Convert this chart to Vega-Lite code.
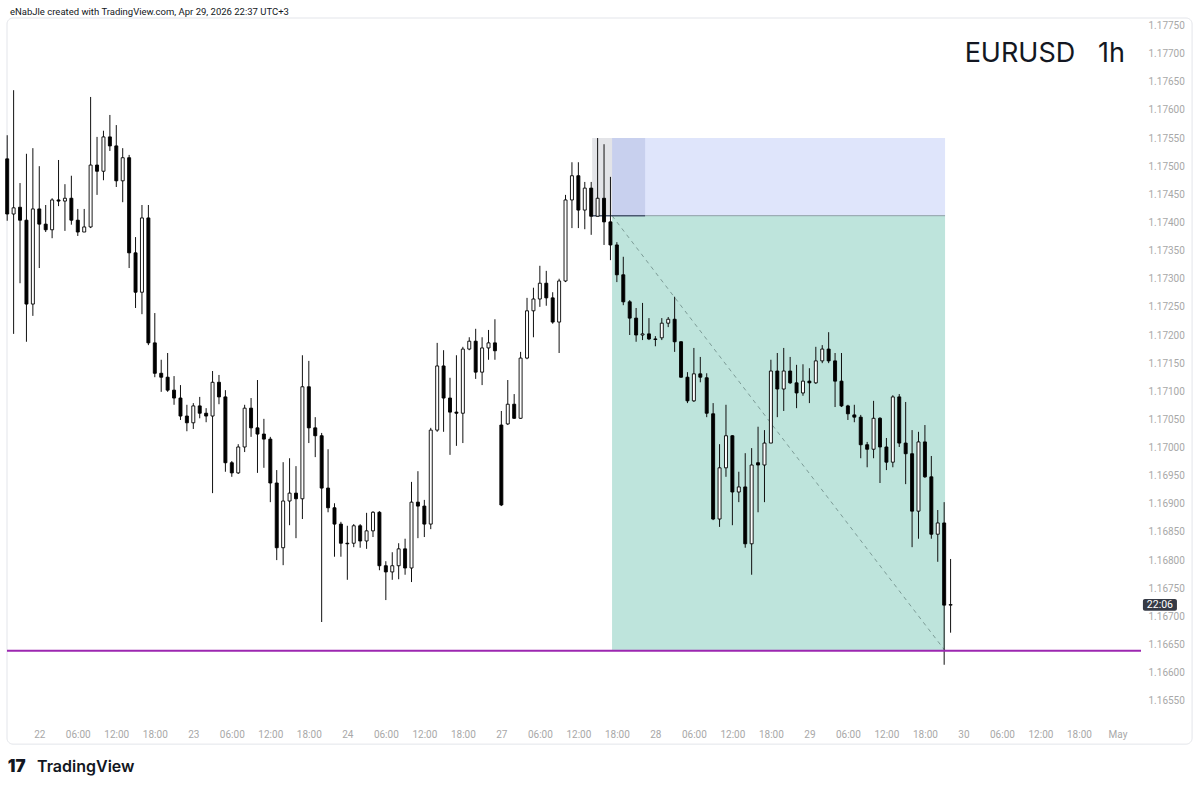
{
  "$schema": "https://vega.github.io/schema/vega-lite/v6.json",
  "autosize": {"type": "none"},
  "width": 1134,
  "height": 703,
  "padding": {"left": 7, "top": 18, "right": 59, "bottom": 68},
  "background": "#ffffff",
  "config": {
    "view": {"stroke": null},
    "axisX": {"grid": false, "domain": false, "ticks": false, "tickSize": 0, "labelPadding": 13, "labelBaseline": "middle", "labelFlush": false, "labelOverlap": false, "labelFont": "Roboto", "labelFontSize": 10, "labelColor": "#a8a8a8"},
    "axisY": {"grid": false, "domain": false, "ticks": false, "tickSize": 0, "labelPadding": 7, "labelAlign": "left", "labelFlush": false, "labelOverlap": false, "labelFont": "Roboto", "labelFontSize": 10, "labelColor": "#a8a8a8"}
  },
  "datasets": {
    "candles": [
      {"i":-5,"open":1.17513,"high":1.17555,"low":1.17403,"close":1.17415},
      {"i":-4,"open":1.17415,"high":1.17635,"low":1.17202,"close":1.17426},
      {"i":-3,"open":1.17427,"high":1.17470,"low":1.17292,"close":1.17404},
      {"i":-2,"open":1.17404,"high":1.17522,"low":1.17188,"close":1.17255},
      {"i":-1,"open":1.17255,"high":1.17532,"low":1.17234,"close":1.17424},
      {"i":0,"open":1.17424,"high":1.17500,"low":1.17319,"close":1.17397},
      {"i":1,"open":1.17397,"high":1.17431,"low":1.17383,"close":1.17387},
      {"i":2,"open":1.17387,"high":1.17443,"low":1.17372,"close":1.17440},
      {"i":3,"open":1.17440,"high":1.17511,"low":1.17429,"close":1.17438},
      {"i":4,"open":1.17438,"high":1.17468,"low":1.17385,"close":1.17443},
      {"i":5,"open":1.17443,"high":1.17483,"low":1.17396,"close":1.17404},
      {"i":6,"open":1.17404,"high":1.17424,"low":1.17376,"close":1.17383},
      {"i":7,"open":1.17383,"high":1.17424,"low":1.17383,"close":1.17392},
      {"i":8,"open":1.17392,"high":1.17623,"low":1.17390,"close":1.17502},
      {"i":9,"open":1.17502,"high":1.17552,"low":1.17449,"close":1.17491},
      {"i":10,"open":1.17491,"high":1.17563,"low":1.17475,"close":1.17552},
      {"i":11,"open":1.17552,"high":1.17591,"low":1.17527,"close":1.17536},
      {"i":12,"open":1.17536,"high":1.17573,"low":1.17463,"close":1.17474},
      {"i":13,"open":1.17474,"high":1.17532,"low":1.17436,"close":1.17515},
      {"i":14,"open":1.17515,"high":1.17520,"low":1.17319,"close":1.17346},
      {"i":15,"open":1.17346,"high":1.17374,"low":1.17248,"close":1.17276},
      {"i":16,"open":1.17276,"high":1.17431,"low":1.17237,"close":1.17408},
      {"i":17,"open":1.17408,"high":1.17431,"low":1.17182,"close":1.17186},
      {"i":18,"open":1.17186,"high":1.17239,"low":1.17125,"close":1.17132},
      {"i":19,"open":1.17132,"high":1.17156,"low":1.17099,"close":1.17125},
      {"i":20,"open":1.17125,"high":1.17168,"low":1.17099,"close":1.17102},
      {"i":21,"open":1.17102,"high":1.17127,"low":1.17076,"close":1.17088},
      {"i":22,"open":1.17088,"high":1.17111,"low":1.17049,"close":1.17056},
      {"i":23,"open":1.17056,"high":1.17076,"low":1.17029,"close":1.17044},
      {"i":24,"open":1.17044,"high":1.17079,"low":1.17033,"close":1.17074},
      {"i":25,"open":1.17074,"high":1.17090,"low":1.17052,"close":1.17061},
      {"i":26,"open":1.17061,"high":1.17070,"low":1.17045,"close":1.17056},
      {"i":27,"open":1.17056,"high":1.17136,"low":1.16919,"close":1.17116},
      {"i":28,"open":1.17116,"high":1.17129,"low":1.17077,"close":1.17090},
      {"i":29,"open":1.17090,"high":1.17102,"low":1.16957,"close":1.16973},
      {"i":30,"open":1.16973,"high":1.16976,"low":1.16948,"close":1.16955},
      {"i":31,"open":1.16955,"high":1.17006,"low":1.16953,"close":1.17001},
      {"i":32,"open":1.17001,"high":1.17076,"low":1.16992,"close":1.17070},
      {"i":33,"open":1.17070,"high":1.17088,"low":1.17019,"close":1.17035},
      {"i":34,"open":1.17035,"high":1.17120,"low":1.16955,"close":1.17024},
      {"i":35,"open":1.17024,"high":1.17051,"low":1.16964,"close":1.17015},
      {"i":36,"open":1.17015,"high":1.17019,"low":1.16903,"close":1.16937},
      {"i":37,"open":1.16937,"high":1.16960,"low":1.16800,"close":1.16822},
      {"i":38,"open":1.16822,"high":1.16974,"low":1.16791,"close":1.16905},
      {"i":39,"open":1.16905,"high":1.16981,"low":1.16862,"close":1.16919},
      {"i":40,"open":1.16919,"high":1.16967,"low":1.16839,"close":1.16909},
      {"i":41,"open":1.16909,"high":1.17164,"low":1.16873,"close":1.17108},
      {"i":42,"open":1.17108,"high":1.17154,"low":1.17008,"close":1.17035},
      {"i":43,"open":1.17035,"high":1.17054,"low":1.16983,"close":1.17021},
      {"i":44,"open":1.17021,"high":1.17026,"low":1.16690,"close":1.16928},
      {"i":45,"open":1.16928,"high":1.16997,"low":1.16885,"close":1.16893},
      {"i":46,"open":1.16893,"high":1.16901,"low":1.16806,"close":1.16864},
      {"i":47,"open":1.16864,"high":1.16868,"low":1.16806,"close":1.16830},
      {"i":48,"open":1.16830,"high":1.16861,"low":1.16765,"close":1.16829},
      {"i":49,"open":1.16830,"high":1.16864,"low":1.16823,"close":1.16861},
      {"i":50,"open":1.16861,"high":1.16864,"low":1.16822,"close":1.16834},
      {"i":51,"open":1.16834,"high":1.16884,"low":1.16820,"close":1.16852},
      {"i":52,"open":1.16852,"high":1.16887,"low":1.16841,"close":1.16885},
      {"i":53,"open":1.16885,"high":1.16887,"low":1.16782,"close":1.16790},
      {"i":54,"open":1.16790,"high":1.16798,"low":1.16729,"close":1.16779},
      {"i":55,"open":1.16779,"high":1.16814,"low":1.16765,"close":1.16790},
      {"i":56,"open":1.16790,"high":1.16830,"low":1.16766,"close":1.16820},
      {"i":57,"open":1.16820,"high":1.16838,"low":1.16774,"close":1.16786},
      {"i":58,"open":1.16786,"high":1.16939,"low":1.16761,"close":1.16903},
      {"i":59,"open":1.16903,"high":1.16958,"low":1.16839,"close":1.16896},
      {"i":60,"open":1.16896,"high":1.16907,"low":1.16841,"close":1.16864},
      {"i":61,"open":1.16864,"high":1.17035,"low":1.16855,"close":1.17031},
      {"i":62,"open":1.17031,"high":1.17186,"low":1.17028,"close":1.17145},
      {"i":63,"open":1.17145,"high":1.17173,"low":1.17028,"close":1.17088},
      {"i":64,"open":1.17088,"high":1.17124,"low":1.16987,"close":1.17063},
      {"i":65,"open":1.17063,"high":1.17164,"low":1.17003,"close":1.17061},
      {"i":66,"open":1.17061,"high":1.17179,"low":1.17008,"close":1.17175},
      {"i":67,"open":1.17175,"high":1.17196,"low":1.17173,"close":1.17189},
      {"i":68,"open":1.17189,"high":1.17211,"low":1.17122,"close":1.17134},
      {"i":69,"open":1.17134,"high":1.17196,"low":1.17111,"close":1.17177},
      {"i":70,"open":1.17177,"high":1.17209,"low":1.17156,"close":1.17186},
      {"i":71,"open":1.17186,"high":1.17228,"low":1.17156,"close":1.17172},
      {"i":72,"open":1.17040,"high":1.17065,"low":1.16896,"close":1.16898},
      {"i":73,"open":1.17042,"high":1.17120,"low":1.17040,"close":1.17077},
      {"i":74,"open":1.17077,"high":1.17095,"low":1.17051,"close":1.17052},
      {"i":75,"open":1.17052,"high":1.17170,"low":1.17051,"close":1.17159},
      {"i":76,"open":1.17159,"high":1.17266,"low":1.17157,"close":1.17243},
      {"i":77,"open":1.17243,"high":1.17284,"low":1.17196,"close":1.17264},
      {"i":78,"open":1.17264,"high":1.17323,"low":1.17250,"close":1.17292},
      {"i":79,"open":1.17292,"high":1.17314,"low":1.17252,"close":1.17266},
      {"i":80,"open":1.17266,"high":1.17276,"low":1.17220,"close":1.17223},
      {"i":81,"open":1.17223,"high":1.17300,"low":1.17168,"close":1.17296},
      {"i":82,"open":1.17296,"high":1.17449,"low":1.17294,"close":1.17440},
      {"i":83,"open":1.17440,"high":1.17507,"low":1.17390,"close":1.17483},
      {"i":84,"open":1.17483,"high":1.17507,"low":1.17390,"close":1.17422},
      {"i":85,"open":1.17422,"high":1.17472,"low":1.17388,"close":1.17461},
      {"i":86,"open":1.17461,"high":1.17472,"low":1.17378,"close":1.17411},
      {"i":87,"open":1.17411,"high":1.17550,"low":1.17411,"close":1.17443},
      {"i":88,"open":1.17443,"high":1.17539,"low":1.17360,"close":1.17401},
      {"i":89,"open":1.17401,"high":1.17481,"low":1.17333,"close":1.17360},
      {"i":90,"open":1.17360,"high":1.17365,"low":1.17294,"close":1.17307},
      {"i":91,"open":1.17307,"high":1.17339,"low":1.17253,"close":1.17259},
      {"i":92,"open":1.17259,"high":1.17262,"low":1.17200,"close":1.17230},
      {"i":93,"open":1.17230,"high":1.17248,"low":1.17188,"close":1.17200},
      {"i":94,"open":1.17200,"high":1.17257,"low":1.17191,"close":1.17202},
      {"i":95,"open":1.17202,"high":1.17230,"low":1.17191,"close":1.17193},
      {"i":96,"open":1.17193,"high":1.17198,"low":1.17180,"close":1.17192},
      {"i":97,"open":1.17195,"high":1.17230,"low":1.17191,"close":1.17221},
      {"i":98,"open":1.17221,"high":1.17232,"low":1.17214,"close":1.17228},
      {"i":99,"open":1.17228,"high":1.17268,"low":1.17170,"close":1.17188},
      {"i":100,"open":1.17188,"high":1.17189,"low":1.17124,"close":1.17125},
      {"i":101,"open":1.17125,"high":1.17134,"low":1.17079,"close":1.17083},
      {"i":102,"open":1.17083,"high":1.17177,"low":1.17081,"close":1.17131},
      {"i":103,"open":1.17131,"high":1.17161,"low":1.17116,"close":1.17125},
      {"i":104,"open":1.17124,"high":1.17132,"low":1.17054,"close":1.17061},
      {"i":105,"open":1.17060,"high":1.17079,"low":1.16871,"close":1.16873},
      {"i":106,"open":1.16873,"high":1.17006,"low":1.16859,"close":1.16964},
      {"i":107,"open":1.16964,"high":1.17076,"low":1.16948,"close":1.17021},
      {"i":108,"open":1.17021,"high":1.17022,"low":1.16862,"close":1.16921},
      {"i":109,"open":1.16921,"high":1.16957,"low":1.16903,"close":1.16930},
      {"i":110,"open":1.16930,"high":1.16990,"low":1.16822,"close":1.16829},
      {"i":111,"open":1.16829,"high":1.16999,"low":1.16774,"close":1.16969},
      {"i":112,"open":1.16973,"high":1.17037,"low":1.16885,"close":1.16969},
      {"i":113,"open":1.16969,"high":1.17031,"low":1.16903,"close":1.17008},
      {"i":114,"open":1.17008,"high":1.17156,"low":1.17008,"close":1.17136},
      {"i":115,"open":1.17136,"high":1.17168,"low":1.17054,"close":1.17104},
      {"i":116,"open":1.17104,"high":1.17177,"low":1.17065,"close":1.17136},
      {"i":117,"open":1.17136,"high":1.17161,"low":1.17113,"close":1.17115},
      {"i":118,"open":1.17115,"high":1.17147,"low":1.17070,"close":1.17097},
      {"i":119,"open":1.17097,"high":1.17148,"low":1.17092,"close":1.17118},
      {"i":120,"open":1.17118,"high":1.17141,"low":1.17079,"close":1.17115},
      {"i":121,"open":1.17115,"high":1.17179,"low":1.17113,"close":1.17154},
      {"i":122,"open":1.17154,"high":1.17182,"low":1.17150,"close":1.17175},
      {"i":123,"open":1.17175,"high":1.17205,"low":1.17150,"close":1.17154},
      {"i":124,"open":1.17154,"high":1.17168,"low":1.17072,"close":1.17118},
      {"i":125,"open":1.17118,"high":1.17168,"low":1.17072,"close":1.17074},
      {"i":126,"open":1.17074,"high":1.17076,"low":1.17049,"close":1.17060},
      {"i":127,"open":1.17058,"high":1.17076,"low":1.17045,"close":1.17054},
      {"i":128,"open":1.17054,"high":1.17058,"low":1.16981,"close":1.17005},
      {"i":129,"open":1.17005,"high":1.17010,"low":1.16965,"close":1.16997},
      {"i":130,"open":1.16997,"high":1.17083,"low":1.16981,"close":1.17052},
      {"i":131,"open":1.17052,"high":1.17054,"low":1.16937,"close":1.17001},
      {"i":132,"open":1.17001,"high":1.17017,"low":1.16960,"close":1.16974},
      {"i":133,"open":1.16974,"high":1.17093,"low":1.16965,"close":1.17090},
      {"i":134,"open":1.17090,"high":1.17095,"low":1.17001,"close":1.17008},
      {"i":135,"open":1.17008,"high":1.17081,"low":1.16935,"close":1.16989},
      {"i":136,"open":1.16989,"high":1.17031,"low":1.16823,"close":1.16887},
      {"i":137,"open":1.16887,"high":1.17028,"low":1.16838,"close":1.17010},
      {"i":138,"open":1.17010,"high":1.17040,"low":1.16946,"close":1.16948},
      {"i":139,"open":1.16948,"high":1.16985,"low":1.16838,"close":1.16846},
      {"i":140,"open":1.16846,"high":1.16889,"low":1.16797,"close":1.16866},
      {"i":141,"open":1.16866,"high":1.16903,"low":1.16614,"close":1.16720},
      {"i":142,"open":1.16720,"high":1.16802,"low":1.16671,"close":1.16721}
    ],
    "zones": [
      {"zone":"target","x0":89.25,"x1":141.14,"top":1.17412,"bottom":1.16639},
      {"zone":"stop","x0":89.25,"x1":141.14,"top":1.1755,"bottom":1.17412},
      {"zone":"stop-selected","x0":89.25,"x1":94.4,"top":1.1755,"bottom":1.17412},
      {"zone":"pre-entry","x0":86.15,"x1":89.25,"top":1.1755,"bottom":1.17412}
    ],
    "lines": [
      {"line":"entry-selected","x0":86.15,"x1":94.4,"p0":1.17412,"p1":1.17412},
      {"line":"entry","x0":94.4,"x1":141.14,"p0":1.17412,"p1":1.17412},
      {"line":"path","x0":89.25,"x1":141.14,"p0":1.17412,"p1":1.16639},
      {"line":"level","x0":-5.03,"x1":171.67,"p0":1.16639,"p1":1.16639}
    ],
    "one": [{}]
  },
  "layer": [
    {
      "data": {"name": "one"},
      "mark": {"type": "rect", "fill": null, "stroke": "#e3e5ea", "strokeWidth": 1, "cornerRadius": 6},
      "encoding": {
        "x": {"datum": -5.03, "type": "quantitative", "scale": {"domain": [-5.03, 171.67], "nice": false, "zero": false, "padding": 0}, "title": null},
        "x2": {"datum": 179.63},
        "y": {"datum": 1.177633, "type": "quantitative", "scale": {"domain": [1.165141, 1.177633], "nice": false, "zero": false, "padding": 0}, "title": null},
        "y2": {"datum": 1.16473}
      }
    },
    {
      "data": {"name": "zones"},
      "mark": {"type": "rect"},
      "encoding": {
        "x": {"field": "x0", "type": "quantitative", "scale": {"domain": [-5.03, 171.67], "nice": false, "zero": false, "padding": 0}, "title": null},
        "x2": {"field": "x1"},
        "y": {"field": "top", "type": "quantitative", "scale": {"domain": [1.165141, 1.177633], "nice": false, "zero": false, "padding": 0}, "title": null},
        "y2": {"field": "bottom"},
        "fill": {"field": "zone", "type": "nominal", "scale": {"domain": ["target", "stop", "stop-selected", "pre-entry"], "range": ["#bee4dc", "#dfe5fb", "#c8d0ee", "#e3e4e8"]}, "legend": null}
      }
    },
    {
      "data": {"name": "lines"},
      "transform": [{"filter": "datum.line == 'path'"}],
      "mark": {"type": "rule", "stroke": "#7d9c97", "strokeWidth": 1, "strokeDash": [4, 4]},
      "encoding": {
        "x": {"field": "x0", "type": "quantitative", "scale": {"domain": [-5.03, 171.67], "nice": false, "zero": false, "padding": 0}, "title": null},
        "x2": {"field": "x1"},
        "y": {"field": "p0", "type": "quantitative", "scale": {"domain": [1.165141, 1.177633], "nice": false, "zero": false, "padding": 0}, "title": null},
        "y2": {"field": "p1"}
      }
    },
    {
      "data": {"name": "lines"},
      "transform": [{"filter": "datum.line == 'entry'"}],
      "mark": {"type": "rule", "stroke": "#8d9ea6", "strokeWidth": 1},
      "encoding": {
        "x": {"field": "x0", "type": "quantitative", "scale": {"domain": [-5.03, 171.67], "nice": false, "zero": false, "padding": 0}, "title": null},
        "x2": {"field": "x1"},
        "y": {"field": "p0", "type": "quantitative", "scale": {"domain": [1.165141, 1.177633], "nice": false, "zero": false, "padding": 0}, "title": null},
        "y2": {"field": "p1"}
      }
    },
    {
      "data": {"name": "lines"},
      "transform": [{"filter": "datum.line == 'entry-selected'"}],
      "mark": {"type": "rule", "stroke": "#4b5870", "strokeWidth": 1.6},
      "encoding": {
        "x": {"field": "x0", "type": "quantitative", "scale": {"domain": [-5.03, 171.67], "nice": false, "zero": false, "padding": 0}, "title": null},
        "x2": {"field": "x1"},
        "y": {"field": "p0", "type": "quantitative", "scale": {"domain": [1.165141, 1.177633], "nice": false, "zero": false, "padding": 0}, "title": null},
        "y2": {"field": "p1"}
      }
    },
    {
      "data": {"name": "candles"},
      "mark": {"type": "rule", "stroke": "#111111", "strokeWidth": 1},
      "encoding": {
        "x": {
          "field": "i", "type": "quantitative", "title": null,
          "scale": {"domain": [-5.03, 171.67], "nice": false, "zero": false, "padding": 0},
          "axis": {
            "orient": "bottom",
            "values": [0, 6, 12, 18, 24, 30, 36, 42, 48, 54, 60, 66, 72, 78, 84, 90, 96, 102, 108, 114, 120, 126, 132, 138, 144, 150, 156, 162, 168],
            "tickCount": 40,
            "labelExpr": "datum.value % 24 == 0 ? ['22','23','24','27','28','29','30','May'][datum.value / 24] : (datum.value % 24 == 6 ? '06:00' : (datum.value % 24 == 12 ? '12:00' : '18:00'))",
            "labelOverlap": false, "labelFlush": false
          }
        },
        "y": {
          "field": "low", "type": "quantitative", "title": null,
          "scale": {"domain": [1.165141, 1.177633], "nice": false, "zero": false, "padding": 0},
          "axis": {
            "orient": "right",
            "values": [1.1655, 1.166, 1.1665, 1.167, 1.1675, 1.168, 1.1685, 1.169, 1.1695, 1.17, 1.1705, 1.171, 1.1715, 1.172, 1.1725, 1.173, 1.1735, 1.174, 1.1745, 1.175, 1.1755, 1.176, 1.1765, 1.177, 1.1775],
            "tickCount": 40,
            "format": ".5f",
            "labelOverlap": false, "labelFlush": false, "labelBound": false
          }
        },
        "y2": {"field": "high"}
      }
    },
    {
      "data": {"name": "candles"},
      "mark": {"type": "bar", "width": 3, "strokeWidth": 0.9},
      "encoding": {
        "x": {"field": "i", "type": "quantitative", "scale": {"domain": [-5.03, 171.67], "nice": false, "zero": false, "padding": 0}, "title": null},
        "y": {"field": "open", "type": "quantitative", "scale": {"domain": [1.165141, 1.177633], "nice": false, "zero": false, "padding": 0}, "title": null},
        "y2": {"field": "close"},
        "fill": {"condition": {"test": "datum.close < datum.open", "value": "#000000"}, "value": "#ffffff"},
        "stroke": {"value": "#000000"}
      }
    },
    {
      "data": {"name": "lines"},
      "transform": [{"filter": "datum.line == 'level'"}],
      "mark": {"type": "rule", "stroke": "#9c27b0", "strokeWidth": 2},
      "encoding": {
        "x": {"field": "x0", "type": "quantitative", "scale": {"domain": [-5.03, 171.67], "nice": false, "zero": false, "padding": 0}, "title": null},
        "x2": {"field": "x1"},
        "y": {"field": "p0", "type": "quantitative", "scale": {"domain": [1.165141, 1.177633], "nice": false, "zero": false, "padding": 0}, "title": null},
        "y2": {"field": "p1"}
      }
    },
    {
      "data": {"name": "one"},
      "mark": {"type": "rect", "fill": "#363a45", "cornerRadius": 2},
      "encoding": {
        "x": {"datum": 171.97, "type": "quantitative", "scale": {"domain": [-5.03, 171.67], "nice": false, "zero": false, "padding": 0}, "title": null},
        "x2": {"datum": 177.27},
        "y": {"datum": 1.16731, "type": "quantitative", "scale": {"domain": [1.165141, 1.177633], "nice": false, "zero": false, "padding": 0}, "title": null},
        "y2": {"datum": 1.1671}
      }
    },
    {
      "data": {"name": "one"},
      "mark": {"type": "text", "align": "center", "baseline": "middle", "font": "Roboto", "fontSize": 10.5, "color": "#ffffff"},
      "encoding": {
        "x": {"datum": 174.62, "type": "quantitative", "scale": {"domain": [-5.03, 171.67], "nice": false, "zero": false, "padding": 0}, "title": null},
        "y": {"datum": 1.167205, "type": "quantitative", "scale": {"domain": [1.165141, 1.177633], "nice": false, "zero": false, "padding": 0}, "title": null},
        "text": {"value": "22:06"}
      }
    },
    {
      "data": {"name": "one"},
      "mark": {"type": "text", "align": "right", "baseline": "middle", "font": "Inter", "fontSize": 27, "color": "#131722"},
      "encoding": {
        "x": {"datum": 169.17, "type": "quantitative", "scale": {"domain": [-5.03, 171.67], "nice": false, "zero": false, "padding": 0}, "title": null},
        "y": {"datum": 1.17700, "type": "quantitative", "scale": {"domain": [1.165141, 1.177633], "nice": false, "zero": false, "padding": 0}, "title": null},
        "text": {"value": "EURUSD\u00a0\u00a0\u00a01h"}
      }
    },
    {
      "data": {"name": "one"},
      "mark": {"type": "text", "align": "left", "baseline": "middle", "font": "Roboto", "fontSize": 9.5, "color": "#131722"},
      "encoding": {
        "x": {"datum": -4.565, "type": "quantitative", "scale": {"domain": [-5.03, 171.67], "nice": false, "zero": false, "padding": 0}, "title": null},
        "y": {"datum": 1.17774, "type": "quantitative", "scale": {"domain": [1.165141, 1.177633], "nice": false, "zero": false, "padding": 0}, "title": null},
        "text": {"value": "eNabJle created with TradingView.com, Apr 29, 2026 22:37 UTC+3"}
      }
    },
    {
      "data": {"name": "one"},
      "mark": {"type": "text", "align": "left", "baseline": "middle", "font": "Inter", "fontSize": 17, "fontWeight": 900, "color": "#131722"},
      "encoding": {
        "x": {"datum": -4.9, "type": "quantitative", "scale": {"domain": [-5.03, 171.67], "nice": false, "zero": false, "padding": 0}, "title": null},
        "y": {"datum": 1.16432, "type": "quantitative", "scale": {"domain": [1.165141, 1.177633], "nice": false, "zero": false, "padding": 0}, "title": null},
        "text": {"value": "17"}
      }
    },
    {
      "data": {"name": "one"},
      "mark": {"type": "text", "align": "left", "baseline": "middle", "font": "Inter", "fontSize": 16, "fontWeight": 600, "color": "#131722"},
      "encoding": {
        "x": {"datum": -0.36, "type": "quantitative", "scale": {"domain": [-5.03, 171.67], "nice": false, "zero": false, "padding": 0}, "title": null},
        "y": {"datum": 1.16432, "type": "quantitative", "scale": {"domain": [1.165141, 1.177633], "nice": false, "zero": false, "padding": 0}, "title": null},
        "text": {"value": "TradingView"}
      }
    }
  ]
}
